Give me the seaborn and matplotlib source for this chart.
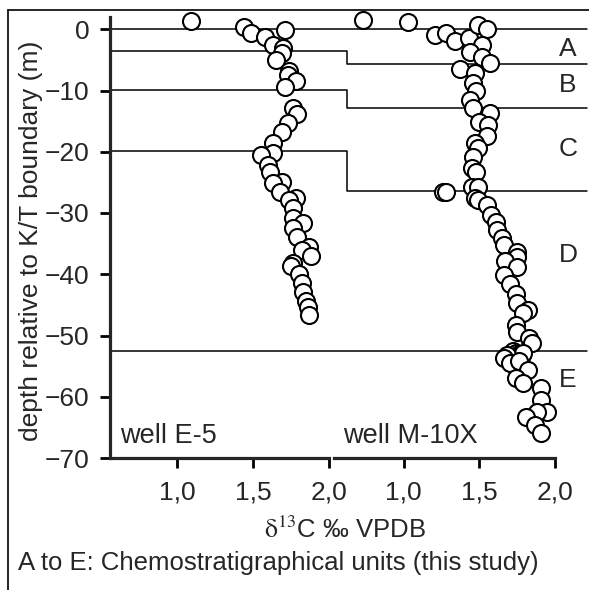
import matplotlib
matplotlib.use("Agg")
import numpy as np
import pandas as pd
import seaborn as sns
import matplotlib.pyplot as plt
import matplotlib.transforms as mtransforms
from matplotlib.lines import Line2D

# delta13C and depth values, well E-5
e5_d13c = [1.09, 1.44, 1.49, 1.71, 1.58, 1.63, 1.70, 1.69, 1.65, 1.74, 1.73, 1.78,
           1.71, 1.76, 1.79, 1.73, 1.69, 1.63, 1.63, 1.55, 1.60, 1.61, 1.69, 1.63,
           1.68, 1.78, 1.74, 1.76, 1.76, 1.83, 1.76, 1.79, 1.87, 1.82, 1.88, 1.76,
           1.75, 1.80, 1.82, 1.83, 1.85, 1.86, 1.87]
e5_depth = [1.4, 0.4, -0.6, -0.1, -1.2, -2.5, -3.0, -3.8, -5.0, -6.8, -7.4, -8.4,
            -9.4, -12.8, -13.8, -15.3, -16.7, -18.6, -20.2, -20.5, -22.1, -23.3, -24.9, -25.1,
            -26.5, -27.5, -27.9, -29.2, -30.8, -31.6, -32.5, -33.9, -35.5, -36.0, -37.0, -38.2,
            -38.6, -40.0, -41.5, -42.9, -44.3, -45.3, -46.6]

# delta13C and depth values, well M-10X
m10x_d13c = [0.73, 1.03, 1.21, 1.28, 1.34, 1.43, 1.49, 1.55, 1.52, 1.44, 1.52, 1.57,
             1.37, 1.47, 1.46, 1.48, 1.44, 1.46, 1.57, 1.50, 1.56, 1.55, 1.47, 1.49,
             1.46, 1.45, 1.48, 1.45, 1.49, 1.26, 1.28, 1.47, 1.49, 1.55, 1.58, 1.61,
             1.62, 1.65, 1.66, 1.75, 1.75, 1.67, 1.75, 1.66, 1.70, 1.74, 1.75, 1.82,
             1.79, 1.74, 1.75, 1.83, 1.85, 1.72, 1.74, 1.76, 1.78, 1.75, 1.73, 1.77,
             1.79, 1.68, 1.66, 1.70, 1.76, 1.82, 1.74, 1.79, 1.91, 1.91, 1.95, 1.88,
             1.81, 1.87, 1.91]
m10x_depth = [1.5, 1.2, -1.0, -0.6, -1.9, -1.4, 0.7, 0.0, -2.5, -3.7, -4.5, -5.5,
              -6.5, -7.2, -8.8, -10.0, -11.5, -12.9, -13.7, -15.1, -15.6, -17.5, -18.6, -19.4,
              -20.8, -22.7, -23.3, -25.7, -25.7, -26.6, -26.6, -27.6, -27.9, -28.7, -30.3, -31.4,
              -32.8, -34.0, -35.2, -36.3, -37.2, -37.9, -38.8, -40.1, -41.6, -43.3, -44.7, -45.9,
              -46.4, -48.3, -49.4, -50.4, -51.2, -52.6, -52.8, -53.0, -53.2, -53.4, -53.6, -53.8,
              -52.9, -53.2, -53.7, -54.5, -54.2, -55.6, -57.0, -57.8, -58.6, -60.5, -62.5, -62.5,
              -63.3, -64.6, -65.9]

# unit boundaries (depth) in each well
bound_e5 = [0.0, -3.5, -9.9, -19.9, -52.5]
bound_m10x = [0.0, -5.7, -12.8, -26.4, -52.5]
unit_names = ["A", "B", "C", "D", "E"]
unit_depth = [-3.3, -9.1, -19.5, -36.8, -57.3]

x_ticks = [1.0, 1.5, 2.0]
x_ticklabels = ["1,0", "1,5", "2,0"]
y_ticks = [0, -10, -20, -30, -40, -50, -60, -70]

df_e5 = pd.DataFrame({"d13c": e5_d13c, "depth": e5_depth})
df_m10x = pd.DataFrame({"d13c": m10x_d13c, "depth": m10x_depth})

sns.set_style("ticks")
plt.rcParams["font.family"] = ["Liberation Sans", "DejaVu Sans"]

W, H = 589, 590
fig = plt.figure(figsize=(W / 100, H / 100), dpi=100)

ax1 = fig.add_axes([110 / W, 1 - 458 / H, 219 / W, 441 / H])
ax2 = fig.add_axes([334 / W, 1 - 458 / H, 221 / W, 441 / H], sharey=ax1)

marker_kw = dict(marker="o", s=150, facecolor="white", edgecolor="black",
                 linewidth=1.5, zorder=5, legend=False, clip_on=False)
sns.scatterplot(data=df_e5, x="d13c", y="depth", ax=ax1, **marker_kw)
sns.scatterplot(data=df_m10x, x="d13c", y="depth", ax=ax2, **marker_kw)

ax1.set_xlim(0.56, 2.0)
ax2.set_xlim(0.54, 2.0)
ax1.set_ylim(-70, 2)

for ax in (ax1, ax2):
    ax.set_facecolor("none")
    ax.set_xlabel("")
    ax.set_ylabel("")
    ax.set_xticks(x_ticks)
    ax.set_xticklabels(x_ticklabels)
    ax.tick_params(axis="both", direction="out", length=7, width=2,
                   labelsize=19, pad=9, color="black")
    ax.spines["top"].set_visible(False)
    ax.spines["right"].set_visible(False)
    ax.spines["bottom"].set_linewidth(2.3)
    ax.spines["left"].set_linewidth(2.3)

ax1.set_yticks(y_ticks)
ax1.tick_params(axis="y", pad=8)
ax2.spines["left"].set_visible(False)
ax2.tick_params(axis="y", left=False, labelleft=False)

# unit boundary lines, stepping between the two wells
trans = mtransforms.blended_transform_factory(fig.transFigure, ax1.transData)
x_left, x_step, x_end = 110 / W, 347 / W, 587 / W
for yl, yr in zip(bound_e5, bound_m10x):
    ax1.plot([x_left, x_step, x_step, x_end], [yl, yl, yr, yr], color="black",
             lw=1.1, transform=trans, clip_on=False, zorder=1)

trans2 = mtransforms.blended_transform_factory(fig.transFigure, ax2.transData)
for name, yy in zip(unit_names, unit_depth):
    ax2.text(568 / W, yy, name, transform=trans2, ha="center", va="center",
             fontsize=19)

ax1.text(0.045, 0.02, "well E-5", transform=ax1.transAxes, fontsize=19.5,
         ha="left", va="bottom")
ax2.text(0.04, 0.02, "well M-10X", transform=ax2.transAxes, fontsize=19.5,
         ha="left", va="bottom")

fig.text(31 / W, 1 - 241 / H, "depth relative to K/T boundary (m)", rotation=90,
         ha="center", va="center", fontsize=19)
fig.text(345 / W, 1 - 530 / H, r"$\mathrm{\delta}^{13}$C ‰ VPDB", ha="center",
         va="center", fontsize=18.5, math_fontfamily="stix")
fig.text(18 / W, 1 - 563 / H, "A to E: Chemostratigraphical units (this study)",
         ha="left", va="center", fontsize=18.5)

# frame around the figure
fig.add_artist(Line2D([8 / W, 8 / W], [0, 1 - 10 / H], color="black", lw=1.2,
                      transform=fig.transFigure))
fig.add_artist(Line2D([8 / W, 1], [1 - 10 / H, 1 - 10 / H], color="black", lw=1.2,
                      transform=fig.transFigure))

fig.savefig("out.png", dpi=100)
